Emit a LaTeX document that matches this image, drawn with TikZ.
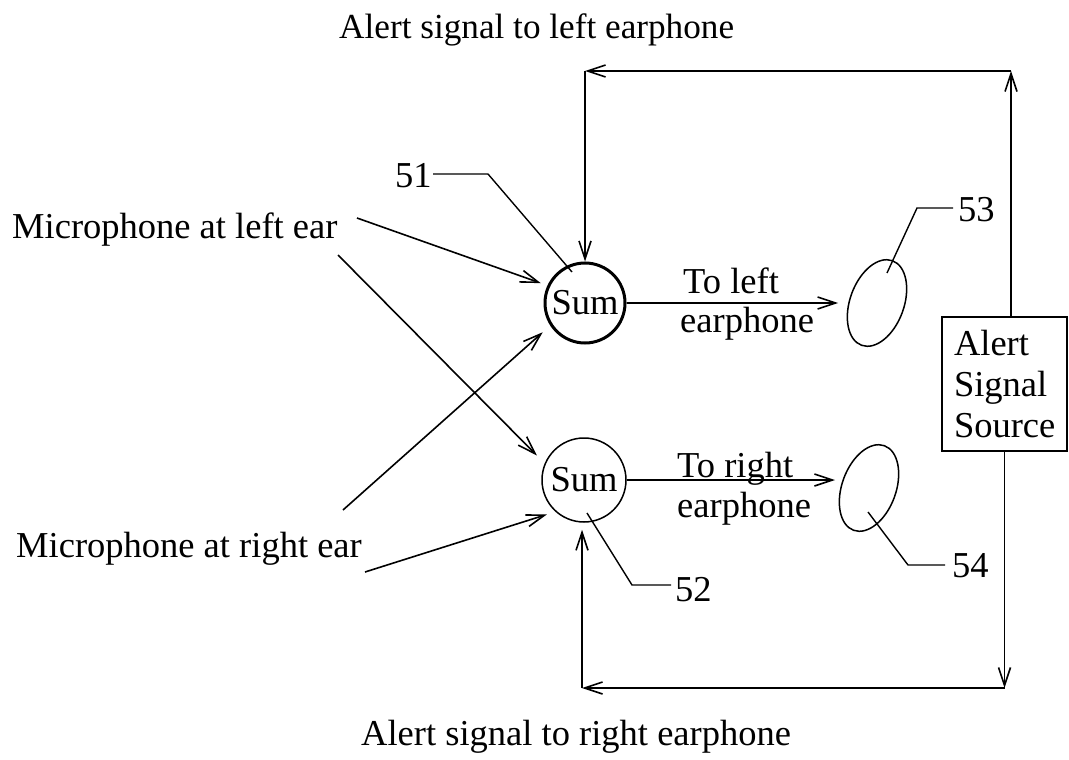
\documentclass[tikz,border=0pt]{standalone}
\usepackage{fontspec}
\setmainfont{Liberation Serif}
\usetikzlibrary{arrows.meta,shapes.geometric}
\begin{document}
\begin{tikzpicture}[x=1pt,y=-1pt,
  every node/.style={font=\fontsize{36.5}{41}\selectfont},
  conn/.style={line width=1.6pt},
  lead/.style={line width=1.4pt},
  arr/.style={line width=1.6pt,-{Straight Barb[length=18pt,width=12pt,line width=1.6pt]}},
  sumnode/.style={circle,draw,inner sep=0pt,minimum size=80pt},
  ear/.style={ellipse,draw,line width=1.5pt,minimum width=54pt,minimum height=90pt,inner sep=0pt,rotate=-20},
  lbl/.style={anchor=base west,inner sep=0pt}]
\useasboundingbox (0,0) rectangle (1069,760);

% main nodes
\node[sumnode,line width=3pt] (sum1) at (585,303) {Sum};
\node[sumnode,line width=1.5pt,minimum size=84pt] (sum2) at (584,480) {Sum};
\node[ear] (ear1) at (877,303) {};
\node[ear] (ear2) at (869,488) {};
\node[draw,line width=1.6pt,minimum width=125pt,minimum height=134pt,
      text width=101pt,inner xsep=12pt,align=left] (src) at (1004.5,384) {Alert\\Signal\\Source};

% texts
\node[lbl,font=\fontsize{35.2}{41}\selectfont] (ttop) at (339,39) {Alert signal to left earphone};
\node[lbl] (tbot) at (361,745) {Alert signal to right earphone};
\node[lbl] (micl) at (12,238) {Microphone at left ear};
\node[lbl] (micr) at (16,557) {Microphone at right ear};
\node[lbl] (n51) at (395,187) {51};
\node[lbl] (n52) at (675,601) {52};
\node[lbl] (n53) at (958,221) {53};
\node[lbl] (n54) at (952,577) {54};
\node[lbl] (tl1) at (683,293) {To left};
\node[lbl] (tl2) at (680,332) {earphone};
\node[lbl] (tr1) at (677,477) {To right};
\node[lbl] (tr2) at (677,517) {earphone};

% coordinates
\coordinate (a1) at (357,218);
\coordinate (a2) at (338,255);
\coordinate (a3) at (343,510);
\coordinate (a4) at (365,572);
\coordinate (c1) at (1011,71);
\coordinate (c2) at (585,71);
\coordinate (c3) at (1004.5,688);
\coordinate (c4) at (582,688);
\coordinate (e2in) at (835,480);
\coordinate (k51a) at (433,174);
\coordinate (k51b) at (488,174);
\coordinate (k51c) at (572,272);
\coordinate (k52a) at (587,513);
\coordinate (k52b) at (632,585);
\coordinate (k52c) at (671,585);
\coordinate (k53a) at (887,273);
\coordinate (k53b) at (917,208);
\coordinate (k53c) at (953,208);
\coordinate (k54a) at (868,512);
\coordinate (k54b) at (908,565);
\coordinate (k54c) at (945,565);

% microphone inputs
\draw[arr,shorten >=7pt] (a1) -- (sum1.155);
\draw[arr,shorten >=11pt] (a2) -- (sum2.157);
\draw[arr,shorten >=10pt] (a3) -- (sum1.213);
\draw[arr,shorten >=9pt] (a4) -- (sum2.228);

% outputs to earphones
\draw[arr,shorten >=10pt] (sum1) -- (ear1);
\draw[arr] (sum2.east) -- (e2in);

% alert feedback loops
\draw[arr] (c1 |- src.north) -- (c1);
\draw[arr] (c1) -- (c2);
\draw[arr] (c2) -- (sum1.north);
\draw[arr] (src.south) -- (c3);
\draw[arr] (c3) -- (c4);
\draw[arr,shorten >=7pt] (c4) -- (c4 |- sum2.south);

% reference leaders
\draw[lead] (k51a) -- (k51b) -- (k51c);
\draw[lead] (k52a) -- (k52b) -- (k52c);
\draw[lead] (k53a) -- (k53b) -- (k53c);
\draw[lead] (k54a) -- (k54b) -- (k54c);
\end{tikzpicture}
\end{document}
